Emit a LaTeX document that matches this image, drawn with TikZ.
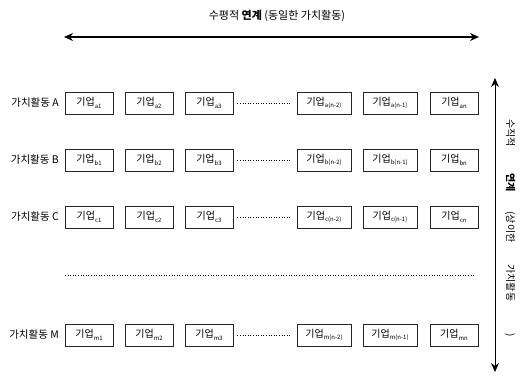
\documentclass[tikz,border=0pt]{standalone}
\usepackage{fontspec}
\setmainfont{Noto Sans CJK KR}
\usetikzlibrary{arrows.meta}
\newcommand{\firmsub}[1]{\raisebox{-2.5pt}{\fontsize{6}{6}\selectfont #1}}
\begin{document}
\begin{tikzpicture}[x=1pt,y=-1pt,
  firm/.style={draw=black!85,line width=0.7pt,minimum height=22pt,inner sep=1pt,font=\fontsize{10}{10}\selectfont},
  rowlabel/.style={anchor=east,inner sep=0pt,font=\fontsize{10.5}{11}\selectfont},
  link/.style={line width=1.4pt,{Stealth[length=9pt,width=8pt]}-{Stealth[length=9pt,width=8pt]}}]
\useasboundingbox (0,0) rectangle (520,378);
%%% title and the horizontal link
\node[font=\fontsize{11}{12}\selectfont] (htitle) at (277,16) {수평적 \textbf{연계} (동일한 가치활동)};
\coordinate (hl) at (64,37);
\coordinate (hr) at (479,37);
\draw[link] (hl) -- (hr);
%%% one row of firms for each value activity
\foreach \r/\y/\L in {a/103/A, b/160/B, c/217/C, m/335/M}{
  \node[rowlabel] (lab\r) at (59,\y) {가치활동 \L};
  \node[firm,minimum width=48pt] (\r1) at (89,\y) {기업\firmsub{\r1}};
  \node[firm,minimum width=48pt] (\r2) at (149,\y) {기업\firmsub{\r2}};
  \node[firm,minimum width=48pt] (\r3) at (209,\y) {기업\firmsub{\r3}};
  \node[firm,minimum width=54pt] (\r4) at (324,\y) {기업\firmsub{\r(n-2)}};
  \node[firm,minimum width=54pt] (\r5) at (390,\y) {기업\firmsub{\r(n-1)}};
  \node[firm,minimum width=48pt] (\r6) at (454,\y) {기업\firmsub{\r n}};
  \draw[dotted,line width=0.6pt] ([xshift=4pt]\r3.east) -- ([xshift=-7pt]\r4.west);
}
%%% gap between row C and row M
\coordinate (gl) at (65,275);
\coordinate (gr) at (475,275);
\draw[dotted,line width=0.6pt] (gl) -- (gr);
%%% the vertical link
\coordinate (vt) at (495,78);
\coordinate (vb) at (495,372);
\draw[link,line width=1pt] (vt) -- (vb);
\node[rotate=-90,font=\fontsize{10}{10}\selectfont] (vtitle) at (510,228)
  {수직적\hspace{26pt}\textbf{연계}\hspace{20pt}(상이한\hspace{22pt}가치활동\hspace{32pt})};
\end{tikzpicture}
\end{document}
